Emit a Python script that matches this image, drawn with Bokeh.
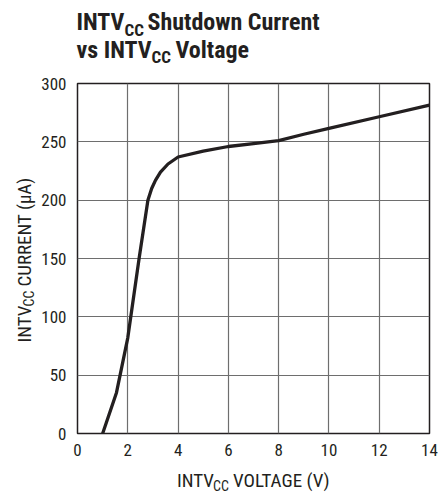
import math
from bokeh.plotting import figure
from bokeh.models import Range1d, Label, FixedTicker
from bokeh.layouts import column, row
from bokeh.embed import file_html
from bokeh.resources import INLINE

# data
voltage = [1.0, 1.55, 2.0, 2.45, 2.8, 2.95, 3.1, 3.3, 3.6, 4.0, 5.0, 6.0, 7.0, 8.0, 9.0, 10.0, 12.0, 14.0]
current = [0, 35, 82, 150, 200, 210, 217, 224, 231, 237, 242, 246, 248.5, 251, 256.5, 261.5, 271.5, 281.5]
x_ticks = [0, 2, 4, 6, 8, 10, 12, 14]
y_ticks = [0, 50, 100, 150, 200, 250, 300]

FONT = "Roboto Condensed"
INK = "#231f20"


def text_fig(w, h):
    f = figure(width=w, height=h, output_backend="svg", toolbar_location=None,
               x_range=Range1d(0, 1), y_range=Range1d(0, 1), min_border=0,
               x_axis_location=None, y_axis_location=None)
    f.grid.visible = False
    f.outline_line_color = None
    f.background_fill_color = "white"
    f.border_fill_color = "white"
    return f


def lab(f, text, x, y, size, bold=False, angle=0.0):
    f.add_layout(Label(x=x, y=y, x_units="screen", y_units="screen", text=text,
                       text_font=FONT, text_font_size=size, text_color=INK,
                       text_font_style="bold" if bold else "normal",
                       text_align="left", text_baseline="middle", angle=angle))


# ---- title ----
tf = text_fig(438, 70)
lab(tf, "INTV", 76, 48.2, "24px", True)
lab(tf, "CC", 124, 40.8, "17px", True)
lab(tf, "Shutdown Current", 147, 48.2, "24px", True)
lab(tf, "vs INTV", 76, 20.9, "24px", True)
lab(tf, "CC", 151, 13.1, "17px", True)
lab(tf, "Voltage", 175, 20.9, "24px", True)

# ---- y axis label ----
yf = text_fig(36, 395)
a = math.pi / 2
lab(yf, "INTV", 23.5, 91, "19px", angle=a)
lab(yf, "CC", 28.5, 127, "14px", angle=a)
lab(yf, "CURRENT (\u00b5A)", 23.5, 147, "19px", angle=a)

# ---- main plot ----
p = figure(width=402, height=395, output_backend="svg", toolbar_location=None,
           x_range=Range1d(0, 14), y_range=Range1d(0, 300),
           min_border_left=41, min_border_top=13, min_border_right=9, min_border_bottom=32)
p.background_fill_color = "white"
p.border_fill_color = "white"
p.outline_line_color = INK
p.outline_line_width = 1.5

for ax in (p.xaxis[0], p.yaxis[0]):
    ax.axis_line_color = None
    ax.major_tick_line_color = None
    ax.minor_tick_line_color = None
    ax.major_tick_out = 0
    ax.major_tick_in = 0
    ax.major_label_text_font = FONT
    ax.major_label_text_font_size = "17px"
    ax.major_label_text_color = INK
p.xaxis.ticker = FixedTicker(ticks=x_ticks)
p.yaxis.ticker = FixedTicker(ticks=y_ticks)
p.xaxis.major_label_standoff = 10
p.yaxis.major_label_standoff = 11

p.xgrid.ticker = FixedTicker(ticks=x_ticks)
p.ygrid.ticker = FixedTicker(ticks=y_ticks)
p.grid.grid_line_color = "#6e6e6e"
p.grid.grid_line_width = 1.2

p.line(voltage, current, line_color=INK, line_width=3.3, line_join="round", line_cap="round")

# ---- x axis label ----
xf = text_fig(438, 32)
lab(xf, "INTV", 176.5, 16.8, "19px")
lab(xf, "CC", 212.5, 11.8, "14px")
lab(xf, "VOLTAGE (V)", 232.5, 16.8, "19px")

layout = column(tf, row(yf, p), xf)
open("out.html", "w").write(file_html(layout, INLINE))
